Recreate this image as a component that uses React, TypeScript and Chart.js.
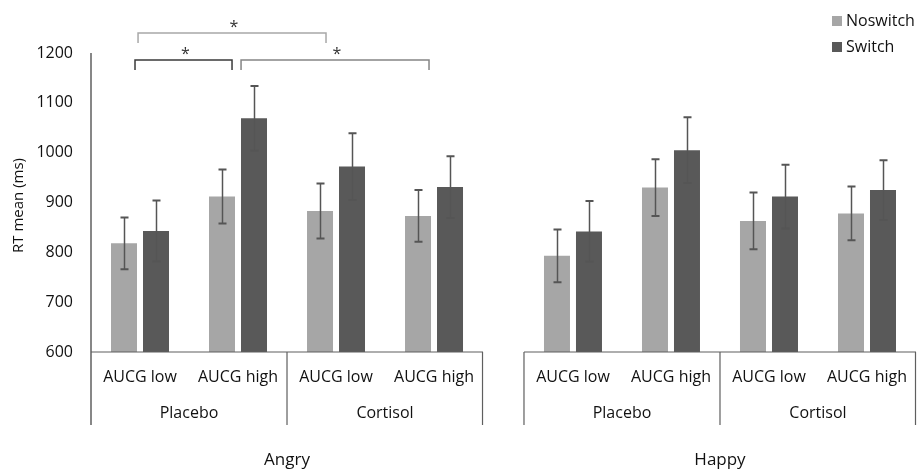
import React, { useEffect, useRef } from 'react';
import { Chart, registerables } from 'chart.js';

Chart.register(...registerables);

// ---- data ----
const emotions = ['Angry', 'Happy'];
const treatments = ['Placebo', 'Cortisol'];
const aucgLevels = ['AUCG low', 'AUCG high'];
const seriesNames = ['Noswitch', 'Switch'];
const noswitchMeans = [818, 912, 883, 873, 793, 930, 863, 878];
const noswitchErrors = [52, 54, 55, 52, 53, 57, 57, 54];
const switchMeans = [843, 1069, 972, 931, 842, 1005, 912, 925];
const switchErrors = [61, 65, 67, 62, 61, 66, 64, 60];
const yMin = 600;
const yMax = 1200;
const yStep = 100;
const yTitle = 'RT mean (ms)';
const sigMark = '*';

// ---- layout helpers (positions, not data) ----
const PANEL_GAP = 0.418; // gap between panels in slot units
const SLOTS_PER_PANEL = treatments.length * aucgLevels.length;
const panelStart = (p: number) => p * (SLOTS_PER_PANEL + PANEL_GAP);
const slotX = (i: number) => {
  const p = Math.floor(i / SLOTS_PER_PANEL);
  return panelStart(p) + (i % SLOTS_PER_PANEL) + 0.5;
};
const X_MAX = panelStart(emotions.length - 1) + SLOTS_PER_PANEL;

const FONT = '"Open Sans", "DejaVu Sans", sans-serif';
const COLOR_NOSWITCH = '#a6a6a6';
const COLOR_SWITCH = '#595959';
const LINE = '#5f5f5f';
const TEXT = '#111111';

// brackets: x in slot units, y in value units
const brackets = [
  { x1: 0.449, x2: 1.439, y: 1186, leg: 20, color: '#3a3a3a' },
  { x1: 1.531, x2: 3.449, y: 1186, leg: 20, color: '#858585' },
  { x1: 0.48, x2: 2.398, y: 1240, leg: 20, color: '#a8a8a8' },
];

const overlay = {
  id: 'overlay',
  afterDraw(chart: any) {
    const ctx = chart.ctx as CanvasRenderingContext2D;
    const xs = chart.scales.x;
    const ys = chart.scales.y;
    const area = chart.chartArea;
    const boxBottom = area.bottom + 73;
    ctx.save();

    // error bars
    const errs = [noswitchErrors, switchErrors];
    const means = [noswitchMeans, switchMeans];
    for (let d = 0; d < 2; d++) {
      const meta = chart.getDatasetMeta(d);
      meta.data.forEach((bar: any, i: number) => {
        const x = Math.round(bar.x) + 0.5;
        const yTop = ys.getPixelForValue(means[d][i] + errs[d][i]);
        const yBot = ys.getPixelForValue(means[d][i] - errs[d][i]);
        ctx.strokeStyle = '#555555';
        ctx.lineWidth = 1.5;
        ctx.beginPath();
        ctx.moveTo(x, yTop);
        ctx.lineTo(x, yBot);
        ctx.stroke();
        ctx.lineWidth = 2;
        ctx.beginPath();
        ctx.moveTo(x - 4, yTop);
        ctx.lineTo(x + 4, yTop);
        ctx.moveTo(x - 4, yBot);
        ctx.lineTo(x + 4, yBot);
        ctx.stroke();
      });
    }

    // axes / category boxes
    ctx.strokeStyle = LINE;
    ctx.lineWidth = 1.5;
    ctx.beginPath();
    ctx.moveTo(area.left, area.top);
    ctx.lineTo(area.left, boxBottom);
    ctx.stroke();
    ctx.lineWidth = 1.2;
    emotions.forEach((_, p) => {
      const l = xs.getPixelForValue(panelStart(p));
      const m = xs.getPixelForValue(panelStart(p) + SLOTS_PER_PANEL / 2);
      const r = xs.getPixelForValue(panelStart(p) + SLOTS_PER_PANEL);
      ctx.beginPath();
      ctx.moveTo(l, area.bottom);
      ctx.lineTo(r, area.bottom);
      if (p > 0) {
        ctx.moveTo(l, area.bottom);
        ctx.lineTo(l, boxBottom);
      }
      ctx.moveTo(m, area.bottom);
      ctx.lineTo(m, boxBottom);
      ctx.moveTo(r - 0.5, area.bottom);
      ctx.lineTo(r - 0.5, boxBottom);
      ctx.stroke();
    });

    // category labels
    ctx.fillStyle = TEXT;
    ctx.textAlign = 'center';
    ctx.textBaseline = 'middle';
    ctx.font = `16px ${FONT}`;
    for (let i = 0; i < emotions.length * SLOTS_PER_PANEL; i++) {
      ctx.fillText(aucgLevels[i % aucgLevels.length], xs.getPixelForValue(slotX(i)), area.bottom + 25);
    }
    emotions.forEach((emo, p) => {
      treatments.forEach((t, k) => {
        const cx = xs.getPixelForValue(panelStart(p) + k * aucgLevels.length + aucgLevels.length / 2);
        ctx.font = `16px ${FONT}`;
        ctx.fillText(t, cx, area.bottom + 61);
      });
      ctx.font = `17px ${FONT}`;
      ctx.fillText(emo, xs.getPixelForValue(panelStart(p) + SLOTS_PER_PANEL / 2), area.bottom + 108);
    });

    // y title
    ctx.save();
    ctx.translate(19, (area.top + area.bottom) / 2 + 3);
    ctx.rotate(-Math.PI / 2);
    ctx.font = `15px ${FONT}`;
    ctx.fillText(yTitle, 0, 0);
    ctx.restore();

    // legend
    const legendColors = [COLOR_NOSWITCH, COLOR_SWITCH];
    seriesNames.forEach((name, k) => {
      const cy = 21 + k * 26;
      ctx.fillStyle = legendColors[k];
      ctx.fillRect(832, cy - 5, 10, 10);
      ctx.fillStyle = TEXT;
      ctx.textAlign = 'left';
      ctx.font = `16px ${FONT}`;
      ctx.fillText(name, 846, cy);
    });

    // significance brackets
    brackets.forEach((b) => {
      const x1 = xs.getPixelForValue(b.x1);
      const x2 = xs.getPixelForValue(b.x2);
      const y = ys.getPixelForValue(b.y);
      const yl = ys.getPixelForValue(b.y - b.leg);
      ctx.strokeStyle = b.color;
      ctx.lineWidth = 1.5;
      ctx.beginPath();
      ctx.moveTo(x1, yl);
      ctx.lineTo(x1, y);
      ctx.lineTo(x2, y);
      ctx.lineTo(x2, yl);
      ctx.stroke();
      ctx.fillStyle = '#333333';
      ctx.textAlign = 'center';
      ctx.font = `16px ${FONT}`;
      ctx.fillText(sigMark, (x1 + x2) / 2 + 2, y - 6);
    });

    ctx.restore();
  },
};

export default function App() {
  const ref = useRef<HTMLCanvasElement | null>(null);
  useEffect(() => {
    document.body.style.margin = '0';
    const canvas = ref.current;
    if (!canvas) return;
    const chart = new Chart(canvas, {
      type: 'bar',
      data: {
        datasets: [
          {
            label: seriesNames[0],
            data: noswitchMeans.map((v, i) => ({ x: slotX(i), y: v })),
            backgroundColor: COLOR_NOSWITCH,
            categoryPercentage: 0.653,
            barPercentage: 0.8125,
          },
          {
            label: seriesNames[1],
            data: switchMeans.map((v, i) => ({ x: slotX(i), y: v })),
            backgroundColor: COLOR_SWITCH,
            categoryPercentage: 0.653,
            barPercentage: 0.8125,
          },
        ],
      } as any,
      options: {
        responsive: false,
        animation: false,
        events: [],
        layout: { padding: { left: 8, right: 1, top: 53, bottom: 119 } },
        plugins: { legend: { display: false }, tooltip: { enabled: false } },
        scales: {
          x: {
            type: 'linear',
            min: 0,
            max: X_MAX,
            offset: false,
            display: false,
            afterBuildTicks: (s: any) => {
              s.ticks = [];
            },
          },
          y: {
            min: yMin,
            max: yMax,
            ticks: {
              stepSize: yStep,
              padding: 18,
              color: TEXT,
              font: { family: FONT, size: 16 },
              callback: (v: any) => String(v),
            },
            grid: { display: false, drawTicks: false },
            border: { display: false },
            afterFit: (s: any) => {
              s.width = 83;
            },
          },
        },
      } as any,
      plugins: [overlay],
    });
    return () => chart.destroy();
  }, []);
  return (
    <div style={{ position: 'absolute', left: 0, top: 0, width: 917, height: 471, background: '#fff' }}>
      <canvas ref={ref} width={917} height={471} style={{ display: 'block' }} />
    </div>
  );
}
